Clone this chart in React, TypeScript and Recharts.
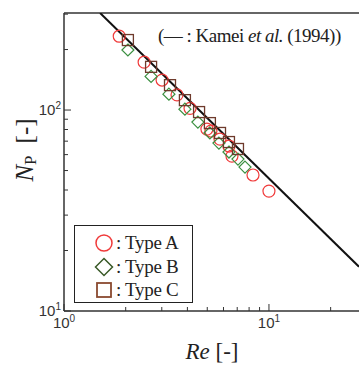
import React from "react";
import {
  ComposedChart,
  Scatter,
  Line,
  XAxis,
  YAxis,
  ReferenceLine,
} from "recharts";

// Type A (circles)
const reA = [1.86, 2.46, 3.01, 3.56, 4.12, 4.98, 5.21, 5.77, 6.38, 6.6, 8.36, 10.0];
const npA = [233, 173, 141, 119, 102, 80.4, 78.6, 71.7, 66.2, 59.0, 47.5, 39.5];
// Type B (diamonds)
const reB = [2.05, 2.66, 3.25, 3.89, 4.5, 5.15, 5.7, 6.38, 7.06, 7.64];
const npB = [199, 147, 120, 101, 87.1, 76.9, 68.5, 61.8, 57.0, 52.0];
// Type C (squares)
const reC = [2.05, 2.66, 3.29, 3.89, 4.56, 5.15, 5.77, 6.38, 7.06];
const npC = [223, 164, 133, 112, 97.7, 86.1, 76.9, 69.3, 64.0];
// Kamei et al. (1994) correlation, end points
const reKamei = [1.5, 27.5];
const npKamei = [304, 16.6];

const xTicks = [1, 2, 3, 4, 5, 6, 7, 8, 9, 10, 20];
const yTicks = [10, 20, 30, 40, 50, 60, 70, 80, 90, 100, 200, 300];
const xMajor = [1, 10];
const xExp = ["0", "1"];
const yMajor = [10, 100];
const yExp = ["1", "2"];

const toRows = (re: number[], np: number[]) => re.map((r, i) => ({ re: r, np: np[i] }));
const dataA = toRows(reA, npA);
const dataB = toRows(reB, npB);
const dataC = toRows(reC, npC);
const dataKamei = toRows(reKamei, npKamei);

const RED = "#f03a3a";
const GREEN = "#3a8f3f";
const BROWN = "#6e3a2c";
const AXIS = "#333";
const SERIF = "'Liberation Serif', 'Times New Roman', serif";
const SANS = "'Liberation Sans', Arial, sans-serif";

const Circle = (p: any) => (
  <circle cx={p.cx} cy={p.cy} r={6} fill="none" stroke={RED} strokeWidth={1.2} />
);
const Diamond = (p: any) => (
  <path
    d={`M${p.cx},${p.cy - 6}L${p.cx + 6},${p.cy}L${p.cx},${p.cy + 6}L${p.cx - 6},${p.cy}Z`}
    fill="none"
    stroke={GREEN}
    strokeWidth={1.2}
  />
);
const Square = (p: any) => (
  <rect x={p.cx - 5.5} y={p.cy - 5.5} width={11} height={11} fill="none" stroke={BROWN} strokeWidth={1.3} />
);

const XTick = (props: any) => {
  const { x, y, payload } = props;
  const i = xMajor.indexOf(payload.value);
  return (
    <g>
      <line x1={x} x2={x} y1={y} y2={y - (i >= 0 ? 7 : 4)} stroke={AXIS} />
      {i >= 0 && (
        <text x={x} y={y + 17} textAnchor="middle" fontFamily={SANS} fontSize={15} fill={AXIS}>
          10
          <tspan dy={-6} fontSize={10}>
            {xExp[i]}
          </tspan>
        </text>
      )}
    </g>
  );
};

const YTick = (props: any) => {
  const { x, y, payload } = props;
  const i = yMajor.indexOf(payload.value);
  return (
    <g>
      <line x1={x} x2={x + (i >= 0 ? 7 : 4)} y1={y} y2={y} stroke={AXIS} />
      {i >= 0 && (
        <text x={x - 3} y={y + 5} textAnchor="end" fontFamily={SANS} fontSize={15} fill={AXIS}>
          10
          <tspan dy={-6} fontSize={10}>
            {yExp[i]}
          </tspan>
        </text>
      )}
    </g>
  );
};

const XTitle = () => (
  <text x={212} y={359} textAnchor="middle" fontFamily={SERIF} fontSize={23} fill="#222">
    <tspan fontStyle="italic">Re</tspan> [-]
  </text>
);

const YTitle = () => (
  <text
    x={27}
    y={150}
    transform="rotate(-90 27 150)"
    textAnchor="middle"
    dominantBaseline="middle"
    fontFamily={SERIF}
    fontSize={25}
    fill="#222"
  >
    <tspan fontStyle="italic">N</tspan>
    <tspan fontSize={17} dy={5}>P</tspan>
    <tspan dy={-5} dx={12}>[-]</tspan>
  </text>
);

const legendItems = [
  { label: ": Type A", color: RED, kind: "circle" },
  { label: ": Type B", color: "#3a5a28", kind: "diamond" },
  { label: ": Type C", color: "#8a4a30", kind: "square" },
];

const LegendIcon = ({ kind, color }: { kind: string; color: string }) => (
  <svg width={20} height={20} style={{ display: "block" }}>
    {kind === "circle" && <circle cx={10} cy={10} r={8} fill="none" stroke={color} strokeWidth={1.5} />}
    {kind === "diamond" && (
      <path d="M10,1.5L18.5,10L10,18.5L1.5,10Z" fill="none" stroke={color} strokeWidth={1.5} />
    )}
    {kind === "square" && <rect x={3} y={3} width={14} height={14} fill="none" stroke={color} strokeWidth={1.8} />}
  </svg>
);

export default function App() {
  return (
    <div style={{ position: "absolute", left: 0, top: 0, width: 359, height: 365, background: "#fff" }}>
      <ComposedChart width={359} height={365} margin={{ top: 13, right: 0, left: 0, bottom: 0 }}>
        <XAxis
          dataKey="re"
          type="number"
          scale="log"
          domain={[1, 27.5]}
          allowDataOverflow
          ticks={xTicks}
          interval={0}
          height={54}
          tickSize={0}
          tickMargin={0}
          tickLine={false}
          tick={<XTick />}
          axisLine={{ stroke: AXIS, strokeWidth: 1.5 }}
          label={<XTitle />}
        />
        <YAxis
          dataKey="np"
          type="number"
          scale="log"
          domain={[10, 304]}
          allowDataOverflow
          ticks={yTicks}
          interval={0}
          width={64}
          tickSize={0}
          tickMargin={0}
          tickLine={false}
          tick={<YTick />}
          axisLine={{ stroke: AXIS, strokeWidth: 1.5 }}
          label={<YTitle />}
        />
        <ReferenceLine y={304} stroke={AXIS} strokeWidth={1.5} />
        <Scatter data={dataA} shape={Circle} isAnimationActive={false} />
        <Scatter data={dataB} shape={Diamond} isAnimationActive={false} />
        <Scatter data={dataC} shape={Square} isAnimationActive={false} />
        <Line
          data={dataKamei}
          dataKey="np"
          stroke="#111"
          strokeWidth={2}
          dot={false}
          activeDot={false}
          isAnimationActive={false}
        />
      </ComposedChart>
      <div
        style={{
          position: "absolute",
          left: 158,
          top: 25,
          fontFamily: SERIF,
          fontSize: 19,
          lineHeight: "22px",
          color: "#222",
          whiteSpace: "nowrap",
          letterSpacing: -0.5,
        }}
      >
        (— : Kamei <i>et al.</i> (1994))
      </div>
      <div
        style={{
          position: "absolute",
          left: 74,
          top: 225,
          width: 117,
          height: 76,
          border: "1px solid #222",
          background: "#fff",
          boxSizing: "content-box",
        }}
      >
        {legendItems.map((it, i) => (
          <div
            key={it.label}
            style={{
              position: "absolute",
              left: 19,
              top: 7 + i * 23.5,
              display: "flex",
              alignItems: "center",
              gap: 2,
              fontFamily: SERIF,
              fontSize: 19,
              color: "#222",
              whiteSpace: "nowrap",
              letterSpacing: -0.3,
              lineHeight: "20px",
            }}
          >
            <LegendIcon kind={it.kind} color={it.color} />
            <span>{it.label}</span>
          </div>
        ))}
      </div>
    </div>
  );
}
